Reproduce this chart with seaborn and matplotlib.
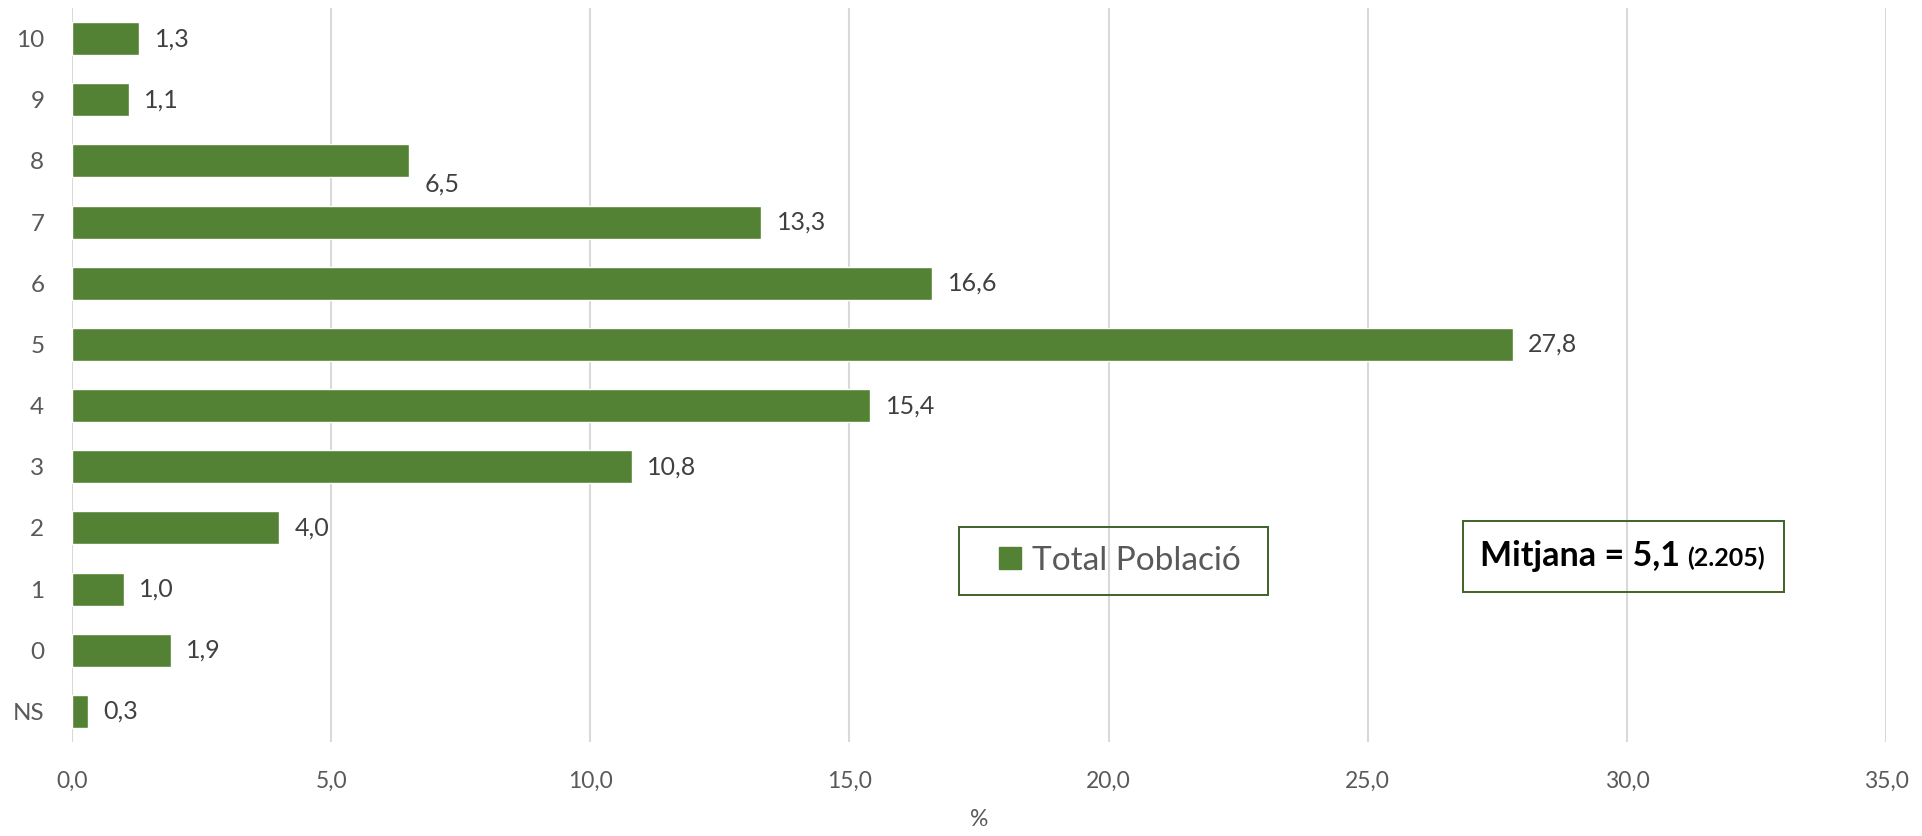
import matplotlib
matplotlib.use("Agg")
import matplotlib.pyplot as plt
import matplotlib.patches as mpatches
import pandas as pd
import seaborn as sns

# Data
CATEGORIES = ["NS", "0", "1", "2", "3", "4", "5", "6", "7", "8", "9", "10"]
VALUES = [0.3, 1.9, 1.0, 4.0, 10.8, 15.4, 27.8, 16.6, 13.3, 6.5, 1.1, 1.3]
SERIES_NAME = "Total Població"
X_TICKS = [0, 5, 10, 15, 20, 25, 30, 35]
MEAN_TEXT = "Mitjana = 5,1"
N_TEXT = "(2.205)"

# Colors
BAR_COLOR = "#548235"
BOX_EDGE = "#3F6126"
TEXT_COLOR = "#404040"
TICK_COLOR = "#595959"
GRID_COLOR = "#D9D9D9"

W, H = 1922, 836


def fmt(v):
    return f"{v:.1f}".replace(".", ",")


def fig_box(x0, y0, x1, y1):
    # pixel box (top-left origin) -> figure-fraction rectangle
    return mpatches.Rectangle((x0 / W, 1 - y1 / H), (x1 - x0) / W, (y1 - y0) / H,
                              transform=fig.transFigure, facecolor="none",
                              edgecolor=BOX_EDGE, linewidth=1.4, zorder=5)


sns.set_theme(style="white")
plt.rcParams["font.family"] = ["Lato", "DejaVu Sans"]

df = pd.DataFrame({"cat": CATEGORIES, "val": VALUES})

fig = plt.figure(figsize=(W / 100, H / 100), dpi=100)
ax = fig.add_axes([0.0375, 0.1124, 0.9438, 0.878])

sns.barplot(data=df, x="val", y="cat", order=CATEGORIES[::-1], orient="h",
            color=BAR_COLOR, saturation=1, width=0.54, ax=ax)

ax.set_xlim(0, 35)
ax.set_ylim(11.5, -0.5)
ax.set_xticks(X_TICKS)
ax.set_xticklabels([fmt(t) for t in X_TICKS])
ax.xaxis.grid(True, color=GRID_COLOR, linewidth=1.5)
ax.yaxis.grid(False)
ax.set_axisbelow(True)
for s in ax.spines.values():
    s.set_visible(False)

ax.tick_params(axis="x", length=0, pad=21, labelsize=16.5, labelcolor=TICK_COLOR)
ax.tick_params(axis="y", length=0, pad=20, labelsize=17.5, labelcolor=TICK_COLOR)
ax.set_xlabel("%", fontsize=16.5, color=TICK_COLOR, labelpad=12)
ax.set_ylabel("")

# value labels
cont = ax.containers[0]
vals_in_order = [VALUES[CATEGORIES.index(c)] for c in CATEGORIES[::-1]]
texts = ax.bar_label(cont, labels=[fmt(v) for v in vals_in_order], padding=11,
                     fontsize=18, color=TEXT_COLOR)
# Excel placed the "8" label below its bar
for t, c in zip(texts, CATEGORIES[::-1]):
    if c == "8":
        t.xyann = (11, -17)

# legend (frame drawn separately, transparent like the original)
handle = mpatches.Patch(color=BAR_COLOR, label=SERIES_NAME)
leg = ax.legend(handles=[handle], loc="center",
                bbox_to_anchor=(1120 / W, 1 - 561 / H),
                bbox_transform=fig.transFigure,
                fontsize=24, handlelength=0.65, handleheight=0.65,
                handletextpad=0.35, borderpad=0, borderaxespad=0,
                frameon=False, labelcolor=TICK_COLOR)
fig.patches.append(fig_box(959, 527, 1268, 595))

# mean box
fig.patches.append(fig_box(1463, 521, 1784, 592))
t1 = fig.text(1480 / W, 1 - 556 / H, MEAN_TEXT, fontsize=24.5,
              fontweight="bold", color="black", va="center", ha="left",
              zorder=6)
fig.canvas.draw()
bb = t1.get_window_extent()
fig.text((bb.x1 + 7) / W, 1 - 558 / H, N_TEXT, fontsize=18,
         fontweight="bold", color="black", va="center", ha="left", zorder=6)

fig.savefig("out.png", dpi=100, facecolor="white")
